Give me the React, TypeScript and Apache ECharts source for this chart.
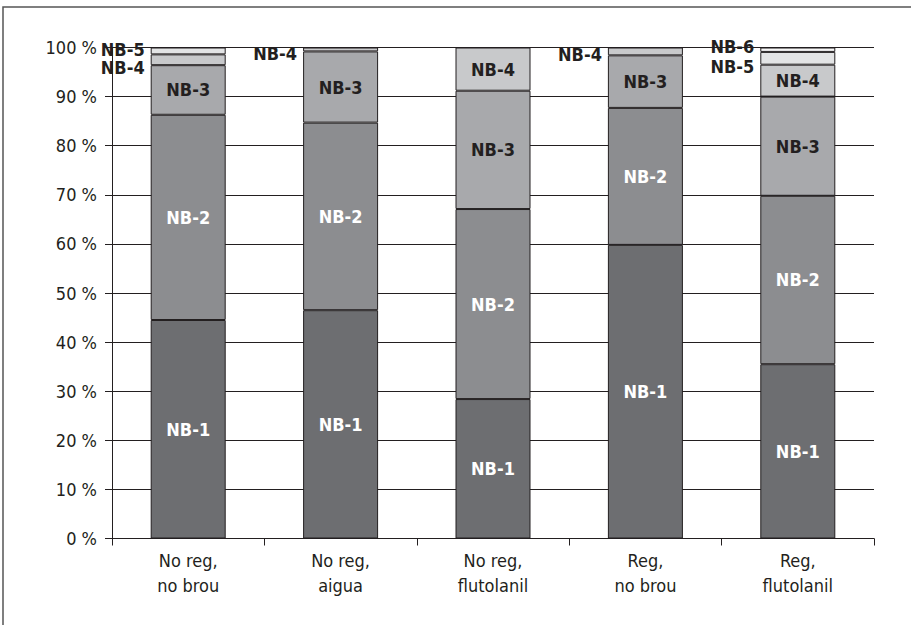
import React, { useEffect, useRef } from "react";
import * as echarts from "echarts";

const categories = ["No reg,\nno brou", "No reg,\naigua", "No reg,\nflutolanil", "Reg,\nno brou", "Reg,\nflutolanil"];
const seriesNames = ["NB-1", "NB-2", "NB-3", "NB-4", "NB-5", "NB-6"];
const nb1 = [44.5, 46.5, 28.4, 59.8, 35.5];
const nb2 = [41.8, 38.2, 38.7, 27.9, 34.3];
const nb3 = [10.1, 14.5, 24.1, 10.7, 20.2];
const nb4 = [2.2, 0.8, 8.8, 1.6, 6.5];
const nb5 = [1.4, null, null, null, 2.6];
const nb6 = [null, null, null, null, 0.9];
const yTicks = [0, 10, 20, 30, 40, 50, 60, 70, 80, 90, 100];

const seriesValues = [nb1, nb2, nb3, nb4, nb5, nb6];
const colors = ["#6d6e71", "#8c8d90", "#a8a9ac", "#c8c9cb", "#e3e4e5", "#f7f7f7"];
const labelColors = ["#ffffff", "#ffffff", "#231f20", "#231f20", "#231f20", "#231f20"];
// vertical nudges for labels placed outside (left of) thin segments: key "series-category"
const outsideOffsets: Record<string, number> = {
  "3-0": 8,
  "4-0": -1,
  "3-1": 4,
  "3-3": 3,
  "4-4": 8.5,
  "5-4": -3,
};

const FONT = "'DejaVu Sans Condensed', 'Liberation Sans Narrow', 'Arial Narrow', sans-serif";

export default function App() {
  const ref = useRef<HTMLDivElement>(null);
  useEffect(() => {
    if (!ref.current) return;
    const chart = echarts.init(ref.current, null, { renderer: "svg" });
    const series = seriesValues.map((vals, si) => ({
      name: seriesNames[si],
      type: "bar",
      stack: "total",
      barWidth: 75,
      itemStyle: { color: colors[si], borderColor: "#231f20", borderWidth: 1 },
      data: vals.map((v, ci) => {
        if (v === null) return null;
        const outside = v < 5;
        return {
          value: v,
          label: outside
            ? {
                show: true,
                position: "left",
                distance: 6,
                offset: [0, outsideOffsets[`${si}-${ci}`] ?? 0],
                color: "#231f20",
              }
            : { show: true, position: "inside", color: labelColors[si] },
        };
      }),
      label: {
        show: true,
        formatter: seriesNames[si],
        fontFamily: FONT,
        fontWeight: "bold",
        fontSize: 18,
      },
    }));
    chart.setOption({
      animation: false,
      backgroundColor: "#ffffff",
      graphic: [
        {
          type: "rect",
          shape: { x: 3, y: 7, width: 930, height: 640 },
          style: { fill: "none", stroke: "#555555", lineWidth: 1.5 },
          silent: true,
        },
      ],
      grid: { left: 112, right: 37, top: 47.5, bottom: 86.5, containLabel: false, outerBoundsMode: "none" },
      xAxis: {
        type: "category",
        data: categories,
        axisLine: { show: true, lineStyle: { color: "#231f20", width: 1 } },
        axisTick: { show: true, length: 7, lineStyle: { color: "#231f20" } },
        axisLabel: {
          color: "#231f20",
          fontFamily: FONT,
          fontSize: 18,
          lineHeight: 25,
          margin: 9,
          interval: 0,
        },
      },
      yAxis: {
        type: "value",
        min: yTicks[0],
        max: yTicks[yTicks.length - 1],
        interval: 10,
        axisLine: { show: true, lineStyle: { color: "#231f20", width: 1 } },
        axisTick: { show: true, length: 7, lineStyle: { color: "#231f20" } },
        splitLine: { show: true, lineStyle: { color: "#231f20", width: 1 } },
        axisLabel: {
          color: "#231f20",
          fontFamily: FONT,
          fontSize: 18,
          margin: 15,
          formatter: "{value} %",
        },
      },
      series,
    });
    return () => chart.dispose();
  }, []);
  return (
    <div
      ref={ref}
      style={{ position: "fixed", left: 0, top: 0, width: 911, height: 625, background: "#fff" }}
    />
  );
}
